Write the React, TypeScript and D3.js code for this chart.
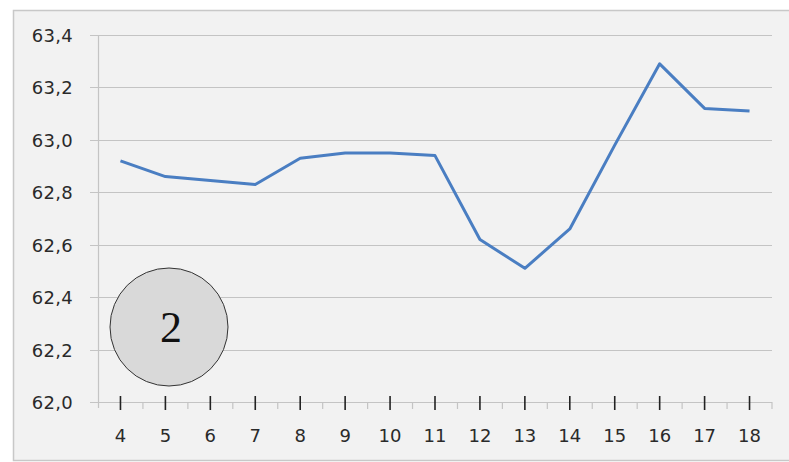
import { useEffect, useRef } from 'react';
import * as d3 from 'd3';

const CATEGORIES = ['4', '5', '6', '7', '8', '9', '10', '11', '12', '13', '14', '15', '16', '17', '18'];
const VALUES = [62.92, 62.86, 62.845, 62.83, 62.93, 62.95, 62.95, 62.94, 62.62, 62.51, 62.66, 62.98, 63.29, 63.12, 63.11];
const Y_TICKS = [62.0, 62.2, 62.4, 62.6, 62.8, 63.0, 63.2, 63.4];
const BADGE = '2';

const W = 789;
const H = 462;

export default function App() {
  const svgRef = useRef<SVGSVGElement>(null);

  useEffect(() => {
    const el = svgRef.current;
    if (!el) return;
    const svg = d3.select(el);
    svg.selectAll('*').remove();

    const left = 98, right = 772, top = 35, bottom = 402;
    const font = '"DejaVu Sans", sans-serif';
    const fontSize = 18;

    // frame
    svg.append('rect').attr('width', W).attr('height', H).attr('fill', '#ffffff');
    svg.append('rect')
      .attr('x', 13.5).attr('y', 10.5)
      .attr('width', W).attr('height', 450)
      .attr('fill', '#f2f2f2')
      .attr('stroke', '#c8c8c8').attr('stroke-width', 1.5);

    const x = d3.scaleBand().domain(CATEGORIES).range([left, right]);
    const y = d3.scaleLinear().domain([62, 63.4]).range([bottom, top]);

    // gridlines + y labels
    Y_TICKS.forEach((t) => {
      const yy = Math.round(y(t)) + 0.5;
      svg.append('line')
        .attr('x1', 90).attr('x2', right)
        .attr('y1', yy).attr('y2', yy)
        .attr('stroke', '#c4c4c4').attr('stroke-width', 1.2);
      svg.append('text')
        .attr('x', 73).attr('y', yy)
        .attr('text-anchor', 'end')
        .attr('dominant-baseline', 'central')
        .attr('font-family', font).attr('font-size', fontSize)
        .attr('letter-spacing', 0.3)
        .attr('fill', '#2a2a2a')
        .text(d3.format('.1f')(t).replace('.', ','));
    });

    // y axis line
    svg.append('line')
      .attr('x1', left + 0.5).attr('x2', left + 0.5)
      .attr('y1', top).attr('y2', bottom + 6)
      .attr('stroke', '#c4c4c4').attr('stroke-width', 1.2);

    // minor ticks at band boundaries
    CATEGORIES.forEach((c) => {
      const bx = (x(c) ?? 0) + x.bandwidth();
      svg.append('line')
        .attr('x1', bx).attr('x2', bx)
        .attr('y1', bottom).attr('y2', bottom + 7)
        .attr('stroke', '#c4c4c4').attr('stroke-width', 1.2);
    });

    // major ticks + labels at band centers
    CATEGORIES.forEach((c) => {
      const cx = (x(c) ?? 0) + x.bandwidth() / 2;
      svg.append('line')
        .attr('x1', cx).attr('x2', cx)
        .attr('y1', bottom - 6).attr('y2', bottom + 8)
        .attr('stroke', '#222').attr('stroke-width', 1.6);
      svg.append('text')
        .attr('x', cx).attr('y', 435)
        .attr('text-anchor', 'middle')
        .attr('dominant-baseline', 'central')
        .attr('font-family', font).attr('font-size', fontSize)
        .attr('fill', '#2a2a2a')
        .text(c);
    });

    // series line
    const line = d3.line<number>()
      .x((_, i) => (x(CATEGORIES[i]) ?? 0) + x.bandwidth() / 2)
      .y((d) => y(d));
    svg.append('path')
      .datum(VALUES)
      .attr('d', line)
      .attr('fill', 'none')
      .attr('stroke', '#4a7ec2')
      .attr('stroke-width', 3)
      .attr('stroke-linejoin', 'round');

    // badge
    svg.append('circle')
      .attr('cx', 169).attr('cy', 327).attr('r', 59)
      .attr('fill', '#d9d9d9')
      .attr('stroke', '#333').attr('stroke-width', 1);
    svg.append('text')
      .attr('x', 171).attr('y', 327)
      .attr('text-anchor', 'middle')
      .attr('dominant-baseline', 'central')
      .attr('font-family', '"Liberation Serif", "DejaVu Serif", serif')
      .attr('font-size', 44)
      .attr('fill', '#111')
      .text(BADGE);
  }, []);

  return (
    <svg
      ref={svgRef}
      width={W}
      height={H}
      style={{ position: 'fixed', top: 0, left: 0, display: 'block' }}
    />
  );
}
